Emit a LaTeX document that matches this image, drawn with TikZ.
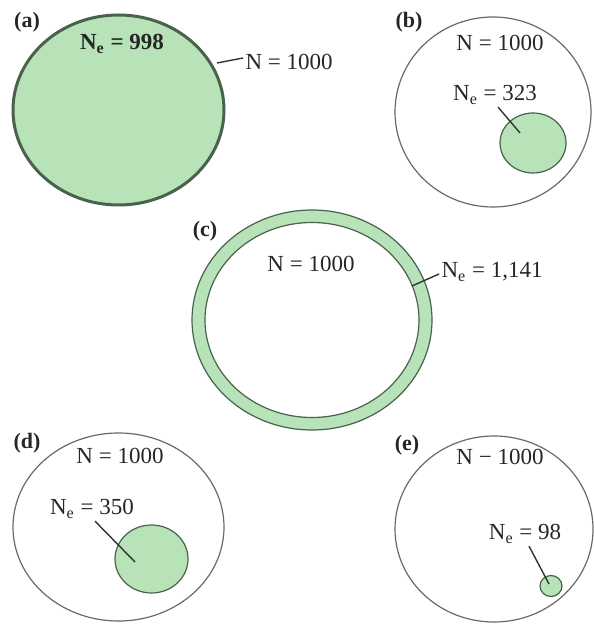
\documentclass[tikz,border=0pt]{standalone}
\usepackage{fontspec}
\setmainfont{Liberation Serif}
\definecolor{popgreen}{RGB}{184,227,184}
\definecolor{rimgreen}{RGB}{72,98,76}
\definecolor{edgegray}{RGB}{105,105,105}

\begin{document}
\begin{tikzpicture}[x=0.5pt,y=-0.5pt,line width=0.6pt,
  every node/.style={text=black!85,inner sep=1pt,font=\fontsize{11.5}{13}\selectfont},
  panel/.style={font=\fontsize{11}{13}\selectfont\bfseries},
  outer/.style={draw=edgegray,line width=0.6pt},
  subpop/.style={draw=rimgreen,fill=popgreen,line width=0.6pt},
  leader/.style={draw=black!80,line width=0.7pt}]
\useasboundingbox (0,0) rectangle (593,624);
% (a) Ne close to N
\filldraw[subpop,line width=1.5pt] (118.5,110) ellipse (105.5 and 95);
\node[panel] (labA) at (27,22) {(a)};
\node[font=\fontsize{11.5}{13}\selectfont\bfseries] (neA) at (122,44) {N\textsubscript{e} = 998};
\node[anchor=west] (nA) at (243,62) {N = 1000};
\coordinate (tipA) at (217,63);
\draw[leader] (tipA) -- ([yshift=2pt]nA.west);
% (b) small breeding group
\draw[outer] (493,112) ellipse (98 and 95);
\filldraw[subpop] (533,143) ellipse (33 and 30);
\node[panel] (labB) at (409,22) {(b)};
\node (nB) at (500,43) {N = 1000};
\node (neB) at (495,95) {N\textsubscript{e} = 323};
\coordinate (tipB) at (520,133);
\draw[leader] ([xshift=1.5pt]neB.south) -- (tipB);
% (c) Ne larger than N
\filldraw[subpop,even odd rule] (312,320) ellipse (120 and 110) (312,320) ellipse (107 and 97.5);
\node[panel] (labC) at (205,231) {(c)};
\node (nC) at (311,264) {N = 1000};
\node[anchor=west] (neC) at (439,272) {N\textsubscript{e} = 1,141};
\coordinate (tipC) at (412,286);
\draw[leader] (tipC) -- ([yshift=-1pt]neC.west);
% (d)
\draw[outer] (118.5,527) ellipse (105.5 and 94);
\filldraw[subpop] (151.5,559) ellipse (36.5 and 34);
\node[panel] (labD) at (27,443) {(d)};
\node (nD) at (120,456) {N = 1000};
\node (neD) at (92,509) {N\textsubscript{e} = 350};
\coordinate (tipD) at (135,562);
\draw[leader] ([xshift=1.5pt]neD.south) -- (tipD);
% (e)
\draw[outer] (494,529) ellipse (99 and 93);
\filldraw[subpop] (551,586) ellipse (11 and 10.5);
\node[panel] (labE) at (407,445) {(e)};
\node (nE) at (500,457) {N − 1000};
\node (neE) at (525,534) {N\textsubscript{e} = 98};
\coordinate (tipE) at (549,584);
\draw[leader] ([xshift=2pt]neE.south) -- (tipE);
\end{tikzpicture}
\end{document}
